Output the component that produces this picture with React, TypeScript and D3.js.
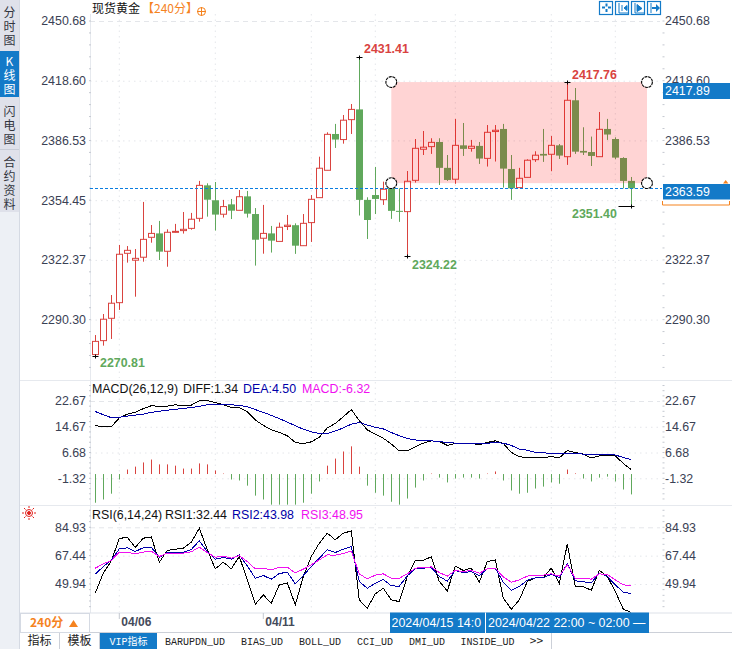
import * as d3 from 'd3'

// candle data, 240 minute bars
const opens = [2271.5, 2279.0, 2291.0, 2299.4, 2325.9, 2322.2, 2323.8, 2334.5, 2336.6, 2327.0, 2337.4, 2338.1, 2339.3, 2344.7, 2362.4, 2354.4, 2346.9, 2352.2, 2349.0, 2356.5, 2347.0, 2334.0, 2336.6, 2332.3, 2340.3, 2341.0, 2330.0, 2342.4, 2355.8, 2370.5, 2390.0, 2387.0, 2397.7, 2403.2, 2354.6, 2357.2, 2354.7, 2360.8, 2348.7, 2348.3, 2365.1, 2381.8, 2383.2, 2385.7, 2371.8, 2365.7, 2383.9, 2382.3, 2383.6, 2376.9, 2391.3, 2392.7, 2371.2, 2361.2, 2366.7, 2376.2, 2379.3, 2379.1, 2383.9, 2377.8, 2408.1, 2380.9, 2380.3, 2377.8, 2392.7, 2387.3, 2377.1, 2364.8]
const highs = [2282.0, 2293.3, 2303.5, 2330.4, 2329.8, 2328.2, 2353.5, 2341.1, 2343.3, 2338.8, 2341.7, 2348.1, 2347.6, 2364.8, 2363.5, 2364.2, 2354.6, 2355.1, 2359.9, 2359.4, 2350.2, 2351.9, 2340.6, 2342.4, 2346.5, 2342.0, 2347.0, 2357.2, 2377.8, 2390.9, 2395.4, 2400.2, 2406.1, 2431.41, 2356.0, 2372.3, 2364.4, 2361.7, 2360.8, 2370.1, 2387.3, 2391.6, 2387.7, 2387.7, 2378.7, 2398.1, 2395.9, 2386.8, 2385.7, 2394.8, 2394.8, 2395.4, 2378.7, 2371.8, 2376.4, 2380.7, 2392.7, 2388.9, 2384.6, 2417.76, 2414.7, 2393.6, 2388.6, 2401.8, 2398.1, 2388.2, 2377.5, 2366.9]
const lows = [2270.81, 2276.3, 2279.9, 2295.5, 2320.9, 2302.6, 2321.4, 2331.6, 2322.3, 2318.7, 2337.0, 2336.5, 2338.6, 2342.9, 2345.6, 2338.1, 2345.1, 2344.3, 2349.0, 2345.1, 2319.3, 2325.7, 2326.3, 2332.3, 2338.4, 2325.6, 2330.0, 2332.0, 2355.8, 2370.5, 2382.5, 2384.8, 2390.0, 2346.2, 2333.6, 2347.0, 2351.9, 2344.4, 2342.8, 2324.22, 2363.9, 2378.7, 2379.3, 2362.6, 2364.8, 2363.2, 2378.2, 2380.5, 2373.9, 2372.5, 2375.2, 2361.2, 2354.6, 2361.2, 2366.7, 2375.0, 2375.0, 2370.0, 2376.6, 2373.4, 2379.3, 2378.7, 2372.8, 2377.8, 2386.8, 2376.4, 2360.8, 2351.4]
const closes = [2278.6, 2290.5, 2299.1, 2325.4, 2327.5, 2323.2, 2333.4, 2336.6, 2326.8, 2337.2, 2337.7, 2338.8, 2344.2, 2362.4, 2354.7, 2346.7, 2351.0, 2348.8, 2356.3, 2347.2, 2333.2, 2336.6, 2332.7, 2339.9, 2341.0, 2330.0, 2342.0, 2354.9, 2371.6, 2389.8, 2387.0, 2397.4, 2403.2, 2354.6, 2343.8, 2355.1, 2360.3, 2348.7, 2348.3, 2364.6, 2382.3, 2382.9, 2385.5, 2371.8, 2365.3, 2383.9, 2382.0, 2383.4, 2376.8, 2390.9, 2392.0, 2371.4, 2360.8, 2366.2, 2375.9, 2378.6, 2378.4, 2383.9, 2378.4, 2408.1, 2380.5, 2380.0, 2378.2, 2392.5, 2389.7, 2377.3, 2364.8, 2360.8]

const diff = [15.0, 14.7, 14.7, 17.4, 18.6, 19.15, 20.3, 21.2, 21.0, 21.1, 21.5, 21.2, 21.4, 22.7, 22.8, 22.2, 21.5, 20.7, 20.6, 19.3, 16.8, 15.1, 13.7, 12.9, 11.9, 9.8, 9.4, 10.0, 11.4, 14.3, 15.7, 17.8, 20.0, 16.6, 13.7, 12.4, 11.1, 9.3, 7.2, 7.2, 8.5, 9.6, 10.3, 10.1, 8.9, 9.5, 9.5, 9.5, 9.1, 9.8, 10.3, 9.5, 6.7, 5.45, 5.0, 5.0, 5.0, 5.45, 5.0, 7.3, 6.7, 6.2, 5.0, 5.65, 5.75, 5.65, 3.3, 1.34]
const dea = [19.4, 18.4, 17.5, 17.6, 18.0, 18.3, 18.6, 19.15, 19.5, 19.8, 20.1, 20.4, 20.6, 21.0, 21.5, 21.6, 21.6, 21.5, 21.3, 20.9, 20.0, 19.15, 18.2, 17.2, 16.1, 15.0, 13.9, 13.1, 12.6, 12.6, 13.4, 14.3, 15.5, 16.0, 15.2, 14.5, 14.0, 12.9, 11.9, 11.0, 10.6, 10.3, 10.3, 10.1, 9.8, 9.6, 9.6, 9.6, 9.6, 9.6, 9.7, 9.6, 8.9, 7.7, 7.4, 6.7, 6.6, 6.4, 6.3, 6.3, 6.3, 6.2, 6.0, 6.0, 6.0, 5.9, 5.15, 4.5]
const macd = [-8.9, -7.9, -6.1, -1.7, 1.4, 2.3, 3.6, 4.5, 3.0, 3.0, 2.6, 1.7, 1.7, 3.3, 3.0, 1.1, 0.15, -1.7, -2.0, -3.6, -6.7, -7.9, -9.5, -9.5, -9.5, -9.5, -8.9, -6.1, -2.3, 2.6, 4.8, 7.0, 8.6, 2.3, -3.6, -5.8, -6.7, -8.6, -9.5, -7.6, -4.2, -2.0, 0.15, -1.1, -2.6, -1.4, -1.1, -1.1, -1.4, 0.15, 0.8, -2.0, -5.1, -6.1, -5.8, -4.5, -3.9, -2.6, -3.0, 1.4, 0.2, -1.4, -2.3, -1.1, -0.8, -2.3, -4.8, -6.32]

const rsi1 = [44.3, 56.6, 64.2, 78.0, 78.8, 72.5, 78.2, 79.0, 63.4, 70.6, 71.4, 72.0, 75.7, 84.4, 71.0, 59.3, 63.4, 59.3, 66.9, 52.5, 37.5, 43.2, 38.1, 49.4, 50.6, 37.1, 54.6, 66.9, 75.1, 81.3, 77.2, 81.3, 82.7, 40.1, 35.0, 43.9, 47.3, 40.1, 39.1, 54.6, 64.6, 64.6, 66.7, 51.5, 45.7, 60.9, 58.3, 59.7, 51.0, 63.8, 64.8, 41.2, 34.4, 40.1, 51.5, 53.7, 53.9, 59.7, 50.4, 74.5, 48.2, 48.2, 46.1, 58.3, 54.6, 45.3, 34.4, 32.44]
const rsi2 = [56.0, 60.7, 64.8, 71.6, 72.3, 70.0, 72.3, 72.7, 66.3, 69.4, 69.4, 69.6, 71.2, 76.6, 70.0, 65.3, 66.3, 65.3, 67.9, 61.1, 53.5, 55.2, 52.9, 56.4, 57.2, 50.0, 55.2, 60.7, 65.9, 71.0, 69.4, 71.4, 73.1, 51.5, 47.3, 50.4, 52.7, 48.8, 48.6, 55.0, 59.3, 59.7, 60.1, 54.6, 51.7, 58.3, 57.0, 57.6, 55.0, 59.3, 59.7, 51.0, 46.1, 48.4, 52.3, 53.7, 53.7, 56.0, 53.9, 62.6, 51.9, 51.3, 50.6, 56.6, 54.6, 49.4, 44.9, 43.98]
const rsi3 = [59.7, 62.4, 64.4, 69.6, 69.6, 68.5, 69.6, 70.2, 66.9, 69.0, 68.8, 69.0, 69.8, 72.7, 69.4, 66.5, 67.1, 65.9, 67.5, 63.8, 59.3, 59.7, 58.7, 60.3, 60.3, 56.8, 59.1, 61.8, 64.8, 67.9, 67.7, 68.8, 70.2, 56.2, 53.1, 55.4, 56.2, 53.5, 53.5, 56.2, 59.7, 60.1, 60.5, 57.0, 54.8, 58.3, 57.6, 58.3, 56.6, 59.3, 59.7, 54.3, 51.0, 52.5, 54.8, 55.4, 55.4, 56.2, 54.8, 61.8, 53.5, 53.5, 52.9, 56.2, 55.8, 52.5, 49.4, 48.95]

const priceTicks = [2450.68, 2418.6, 2386.53, 2354.45, 2322.37, 2290.3]
const macdTicks = [22.67, 14.67, 6.68, -1.32]
const rsiTicks = [84.93, 67.44, 49.94]
const gridBars = [3, 15, 27, 35, 45, 57, 65]
const dateTicks: [number, string][] = [[3, '04/06'], [21, '04/11']]
const boxTop = 2417.89
const boxBottom = 2363.59
const boxBars = [37, 69]
const sideTabs = [
  { chars: ['分', '时', '图'], ys: [13, 27, 41] },
  { chars: ['K', '线', '图'], ys: [62, 76, 90], active: true },
  { chars: ['闪', '电', '图'], ys: [112, 126, 140] },
  { chars: ['合', '约', '资', '料'], ys: [163, 177, 191, 205] },
]
const bottomTabs = [
  { label: '指标', x0: 20, x1: 59 },
  { label: '模板', x0: 60, x1: 99 },
  { label: 'VIP指标', x0: 100, x1: 157, active: true },
  { label: 'BARUPDN_UD', x0: 157, x1: 233 },
  { label: 'BIAS_UD', x0: 233, x1: 291 },
  { label: 'BOLL_UD', x0: 291, x1: 349 },
  { label: 'CCI_UD', x0: 349, x1: 401 },
  { label: 'DMI_UD', x0: 401, x1: 453 },
  { label: 'INSIDE_UD', x0: 453, x1: 522 },
  { label: '>>', x0: 522, x1: 551 },
]

const RED = '#d9433f'
const GREEN = '#60a85c'
const BLUE = '#137ac8'
const ORANGE = '#f5831f'
const AXIS_TEXT = '#3a4154'
const GRID = '#e4e6ea'
const SANS = '"Liberation Sans", Arial, sans-serif'
const CJK = '"Noto Sans CJK SC", sans-serif'
const MONO = '"Liberation Mono", monospace'

const x = d3.scaleLinear().domain([0, 67]).range([95.3, 631.3])
const yPrice = d3.scaleLinear().domain([2450.68, 2290.3]).range([21, 319.6])
const yMacd = d3.scaleLinear().domain([22.67, -1.32]).range([401, 478.3])
const yRsi = d3.scaleLinear().domain([84.93, 49.94]).range([527.3, 584])

const lineFor = (y: d3.ScaleLinear<number, number>) =>
  d3.line<number>().x((_, i) => x(i)).y((d) => y(d))

// short axis marks between the labelled values
function minorTicks(y: d3.ScaleLinear<number, number>, ticks: number[], top: number, bottom: number) {
  const step = (y(ticks[1]) - y(ticks[0])) / 5
  const out: number[] = []
  for (let p = y(ticks[0]); p <= bottom; p += step) out.push(p)
  for (let p = y(ticks[0]) - step; p >= top; p -= step) out.push(p)
  return out
}

function Panel({ y, ticks, top, bottom }: { y: d3.ScaleLinear<number, number>; ticks: number[]; top: number; bottom: number }) {
  const minors = minorTicks(y, ticks, top, bottom)
  return (
    <g>
      {gridBars.map((b) => (
        <line key={b} x1={x(b)} x2={x(b)} y1={top} y2={bottom} stroke={GRID} strokeDasharray="1.5 4" />
      ))}
      {ticks.map((t, i) => (
        <line key={t} x1={90} x2={660} y1={y(t) + 0.5} y2={y(t) + 0.5} stroke={GRID} strokeDasharray={i === 0 ? '5 4' : '1.5 4'} />
      ))}
      {minors.map((p) => (
        <g key={p}>
          <line x1={89} x2={91} y1={p} y2={p} stroke="#c4c8d0" />
          <line x1={662.5} x2={664.5} y1={p} y2={p} stroke="#c4c8d0" />
        </g>
      ))}
      {ticks.map((t) => (
        <g key={t} fontFamily={SANS} fontSize={12.4} fill={AXIS_TEXT}>
          <text x={86} y={y(t)} dy="0.36em" textAnchor="end">{t.toFixed(2)}</text>
          <text x={665} y={y(t)} dy="0.36em">{t.toFixed(2)}</text>
        </g>
      ))}
    </g>
  )
}

function Candles() {
  return (
    <g>
      {closes.map((c, i) => {
        const o = opens[i]
        const up = c > o
        const color = up ? RED : GREEN
        const cx = Math.round(x(i)) + 0.5
        const top = yPrice(Math.max(o, c))
        const bottom = yPrice(Math.min(o, c))
        return (
          <g key={i}>
            <line x1={cx} x2={cx} y1={yPrice(highs[i])} y2={yPrice(lows[i])} stroke={color} strokeWidth={1} />
            {up ? (
              <rect x={cx - 3} y={top} width={6} height={Math.max(bottom - top, 1)} fill="#fff" stroke={color} />
            ) : (
              <rect x={cx - 3.5} y={top} width={7} height={Math.max(bottom - top, 1)} fill={color} />
            )}
          </g>
        )
      })}
    </g>
  )
}

function Extreme({ bar, value, label, color, tx, ty, left = 3 }: { bar: number; value: number; label: string; color: string; tx: number; ty: number; left?: number }) {
  const cx = Math.round(x(bar)) + 0.5
  const py = Math.round(yPrice(value)) + 0.5
  return (
    <g>
      <line x1={cx - left} x2={cx + 3} y1={py} y2={py} stroke="#000" />
      <line x1={cx} x2={cx} y1={py - 2} y2={py + 2} stroke="#000" />
      <text x={tx} y={ty} fill={color} fontFamily={SANS} fontSize={12.4} fontWeight="bold">{label}</text>
    </g>
  )
}

function Handle({ cx, cy }: { cx: number; cy: number }) {
  return <circle cx={cx} cy={cy} r={5.4} fill="#fff" stroke="#000" strokeWidth={1.1} strokeDasharray="3 0.7" />
}

function ToolIcons() {
  const xs = [600, 616, 632, 648]
  return (
    <g fill="none" stroke={BLUE}>
      {xs.map((ix) => (
        <rect key={ix} x={ix - 0.5} y={1.5} width={13} height={13} strokeWidth={1.2} />
      ))}
      <path d="M606.5 3.5v3M606.5 9v3M602 7.5h3M608 7.5h3" strokeWidth={2} />
      <path d="M619 3v10h9M622 5v6" strokeWidth={1} />
      <path d="M624 8l3-2.5v5z" fill={BLUE} />
      <path d="M635 3v10h9" strokeWidth={1} />
      <path d="M637 4.5l5 4-5 3z" fill={BLUE} />
      <path d="M651 3v10" strokeWidth={1} />
      <path d="M652 7h4v-3l4 4-4 4v-3h-4z" fill={BLUE} stroke="none" />
    </g>
  )
}

export default function App() {
  const boxX0 = x(boxBars[0])
  const boxX1 = 647
  const boxY0 = yPrice(boxTop)
  const boxY1 = yPrice(boxBottom)
  const lastY = Math.round(yPrice(closes[closes.length - 1])) + 0.5

  return (
    <svg
      width={732}
      height={649}
      viewBox="0 0 732 649"
      style={{ position: 'absolute', left: 0, top: 0, background: '#fff', display: 'block' }}
    >
      {/* left tab column */}
      <rect x={0} y={0} width={19} height={649} fill="#edf0f5" />
      <rect x={0} y={0} width={19} height={212} fill="#dfe1ea" />
      <line x1={19.5} x2={19.5} y1={0} y2={649} stroke="#d5dae3" />
      <rect x={0} y={51} width={19} height={46} fill={BLUE} />
      <line x1={0} x2={19} y1={149.5} y2={149.5} stroke="#c8ccd6" />
      {sideTabs.map((tab) =>
        tab.chars.map((ch, i) => (
          <text
            key={ch + tab.ys[i]}
            x={9.5}
            y={tab.ys[i]}
            dy="0.36em"
            textAnchor="middle"
            fontFamily={CJK}
            fontSize={12}
            fill={tab.active ? '#fff' : '#33363f'}
          >
            {ch}
          </text>
        )),
      )}

      {/* panel frames */}
      <line x1={90.5} x2={90.5} y1={14} y2={613} stroke="#e6e9ee" />
      <line x1={20} x2={732} y1={380.5} y2={380.5} stroke="#e6e9ee" />
      <line x1={20} x2={732} y1={505.5} y2={505.5} stroke="#e6e9ee" />

      <Panel y={yPrice} ticks={priceTicks} top={14} bottom={378} />
      <Panel y={yMacd} ticks={macdTicks} top={382} bottom={504} />
      <Panel y={yRsi} ticks={rsiTicks} top={507} bottom={612} />

      {/* title */}
      <text x={92} y={13} fontFamily={CJK} fontSize={12} fill="#111">现货黄金</text>
      <text x={142} y={13} fontFamily={CJK} fontSize={12} fill={ORANGE}>【240分】</text>
      <g stroke={ORANGE} fill="none">
        <circle cx={201.5} cy={11.5} r={4} />
        <path d="M197 11.5h9M201.5 7v9" />
      </g>
      <ToolIcons />

      {/* candles */}
      <Candles />
      <rect x={boxX0} y={boxY0} width={boxX1 - boxX0} height={boxY1 - boxY0} fill="rgba(255,0,0,0.17)" />
      <line x1={90} x2={662} y1={lastY} y2={lastY} stroke="#0a7de0" strokeDasharray="3 2" />
      <Handle cx={boxX0} cy={boxY0} />
      <Handle cx={boxX1} cy={boxY0} />
      <Handle cx={boxX0} cy={boxY1} />
      <Handle cx={boxX1} cy={boxY1} />

      <Extreme bar={33} value={2431.41} label="2431.41" color={RED} tx={364} ty={53} />
      <Extreme bar={39} value={2324.22} label="2324.22" color={GREEN} tx={412} ty={269} />
      <Extreme bar={59} value={2417.76} label="2417.76" color={RED} tx={572} ty={79} />
      <Extreme bar={67} value={2351.4} label="2351.40" color={GREEN} tx={572} ty={218} left={13} />
      <Extreme bar={0} value={2270.81} label="2270.81" color={GREEN} tx={100} ty={367} />

      {/* box value flags, the lower one sits over the axis label behind it */}
      <g fontFamily={SANS} fontSize={12.4} fill="#fff">
        <rect x={663} y={83} width={67} height={16} fill={BLUE} />
        <text x={665} y={95}>{boxTop.toFixed(2)}</text>
        <rect x={662} y={184} width={69} height={23} fill="#fff" />
        <rect x={663} y={184} width={67} height={15.5} fill={BLUE} />
        <text x={665} y={196}>{boxBottom.toFixed(2)}</text>
      </g>
      <path d="M662.5 201v4h67v-4" fill="none" stroke={ORANGE} />
      <path d="M723 183.5l2.7-3.5 2.7 3.5z" fill={ORANGE} />

      {/* MACD */}
      <g fontFamily={SANS} fontSize={12.4}>
        <text x={92} y={393} fill="#111">MACD(26,12,9)</text>
        <text x={183} y={393} fill="#111">DIFF:1.34</text>
        <text x={243} y={393} fill="#0000a8">DEA:4.50</text>
        <text x={302} y={393} fill="#f010f0">MACD:-6.32</text>
      </g>
      {macd.map((v, i) => (
        <line
          key={i}
          x1={Math.round(x(i)) + 0.5}
          x2={Math.round(x(i)) + 0.5}
          y1={yMacd(0)}
          y2={yMacd(v)}
          stroke={v >= 0 ? RED : GREEN}
        />
      ))}
      <path d={lineFor(yMacd)(diff)!} fill="none" stroke="#000" shapeRendering="crispEdges" />
      <path d={lineFor(yMacd)(dea)!} fill="none" stroke="#0000a8" shapeRendering="crispEdges" />

      {/* RSI */}
      <g fontFamily={SANS} fontSize={12.4}>
        <text x={92} y={519} fill="#111">RSI(6,14,24)</text>
        <text x={165} y={519} fill="#111">RSI1:32.44</text>
        <text x={232} y={519} fill="#0000a8">RSI2:43.98</text>
        <text x={301} y={519} fill="#f010f0">RSI3:48.95</text>
      </g>
      <g stroke="#e0201c" fill="none">
        <circle cx={29} cy={513} r={3.5} />
        <circle cx={29} cy={513} r={1.5} fill="#e0201c" />
        <path d="M29 506v2M29 518v2M22 513h2M34 513h2M24 508l1.5 1.5M34 508l-1.5 1.5M24 518l1.5-1.5M34 518l-1.5-1.5" />
      </g>
      <path d={lineFor(yRsi)(rsi1)!} fill="none" stroke="#000" shapeRendering="crispEdges" />
      <path d={lineFor(yRsi)(rsi2)!} fill="none" stroke="#0000a8" shapeRendering="crispEdges" />
      <path d={lineFor(yRsi)(rsi3)!} fill="none" stroke="#f010f0" shapeRendering="crispEdges" />

      {/* date strip */}
      <rect x={20} y={613} width={712} height={20} fill="#fff" />
      <line x1={20} x2={732} y1={613} y2={613} stroke="#dde1e8" />
      <line x1={20} x2={732} y1={632.5} y2={632.5} stroke="#ccd0d8" />
      <rect x={20.5} y={613.5} width={69} height={19} fill="#fff" stroke="#d5dae3" />
      <text x={30} y={627} fontFamily={CJK} fontSize={12} fontWeight="bold" fill={ORANGE}>240分</text>
      <path d="M69 627l4.5-7 4.5 7z" fill={ORANGE} />
      {dateTicks.map(([bar, label]) => (
        <g key={label}>
          <line x1={x(bar)} x2={x(bar)} y1={613} y2={619} stroke="#c4c8d0" />
          <text x={x(bar) + 2} y={626} fontFamily={SANS} fontSize={12} fontWeight="bold" fill="#444a5a">{label}</text>
        </g>
      ))}
      <g fontFamily={SANS} fontSize={12.4} fill="#fff">
        <rect x={390} y={612.5} width={96} height={20.5} fill={BLUE} />
        <text x={391.5} y={627}>2024/04/15 14:0</text>
        <rect x={486} y={612.5} width={163} height={20.5} fill={BLUE} />
        <line x1={485.5} x2={485.5} y1={612.5} y2={633} stroke="#fff" />
        <text x={488} y={627}>2024/04/22 22:00 ~ 02:00 —</text>
      </g>

      {/* bottom tabs */}
      {bottomTabs.map((tab) => (
        <g key={tab.label}>
          <rect x={tab.x0} y={633} width={tab.x1 - tab.x0} height={16} fill={tab.active ? BLUE : '#fff'} />
          <line x1={tab.x1 + 0.5} x2={tab.x1 + 0.5} y1={633} y2={649} stroke="#ccd0d8" />
          <text
            x={(tab.x0 + tab.x1) / 2}
            y={645}
            textAnchor="middle"
            fontFamily={tab.label.length > 2 ? `${MONO}, ${CJK}` : CJK}
            fontSize={tab.label.length > 2 ? 10 : 12}
            fill={tab.active ? '#fff' : '#222'}
          >
            {tab.label}
          </text>
        </g>
      ))}
    </svg>
  )
}
